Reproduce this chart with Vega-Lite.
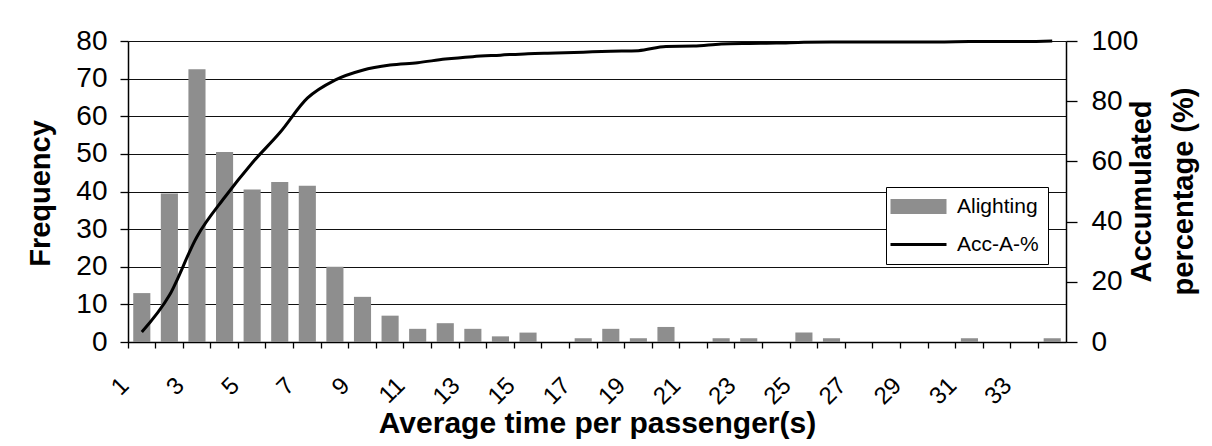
{
  "$schema": "https://vega.github.io/schema/vega-lite/v6.json",
  "width": 938,
  "height": 301,
  "autosize": {"type": "none"},
  "padding": {"left": 128, "top": 41, "right": 146, "bottom": 104},
  "background": "white",
  "config": {
    "view": {"stroke": null},
    "font": "Liberation Sans",
    "axis": {
      "domainColor": "#000000",
      "domainWidth": 1.5,
      "tickColor": "#000000",
      "tickWidth": 1.3,
      "labelColor": "#000000",
      "titleColor": "#000000",
      "labelFont": "Liberation Sans",
      "titleFont": "Liberation Sans",
      "titleFontWeight": "bold",
      "titleFontSize": 29,
      "labelFontSize": 28,
      "labelOverlap": false,
      "labelBound": false,
      "labelFlush": false
    }
  },
  "data": {
    "values": [
      {"t": 1, "freq": 13, "acc": 3.3},
      {"t": 2, "freq": 39.5, "acc": 15.5},
      {"t": 3, "freq": 72.5, "acc": 35},
      {"t": 4, "freq": 50.5, "acc": 48},
      {"t": 5, "freq": 40.5, "acc": 59.5},
      {"t": 6, "freq": 42.5, "acc": 69.5},
      {"t": 7, "freq": 41.5, "acc": 81},
      {"t": 8, "freq": 20, "acc": 87},
      {"t": 9, "freq": 12, "acc": 90.3},
      {"t": 10, "freq": 7, "acc": 92},
      {"t": 11, "freq": 3.5, "acc": 92.8},
      {"t": 12, "freq": 5, "acc": 94},
      {"t": 13, "freq": 3.5, "acc": 94.8},
      {"t": 14, "freq": 1.5, "acc": 95.3},
      {"t": 15, "freq": 2.5, "acc": 95.8},
      {"t": 16, "freq": 0, "acc": 96},
      {"t": 17, "freq": 1, "acc": 96.3},
      {"t": 18, "freq": 3.5, "acc": 96.6},
      {"t": 19, "freq": 1, "acc": 96.8},
      {"t": 20, "freq": 4, "acc": 98.2},
      {"t": 21, "freq": 0, "acc": 98.3},
      {"t": 22, "freq": 1, "acc": 99},
      {"t": 23, "freq": 1, "acc": 99.2},
      {"t": 24, "freq": 0, "acc": 99.3},
      {"t": 25, "freq": 2.5, "acc": 99.6},
      {"t": 26, "freq": 1, "acc": 99.7},
      {"t": 27, "freq": 0, "acc": 99.7},
      {"t": 28, "freq": 0, "acc": 99.7},
      {"t": 29, "freq": 0, "acc": 99.7},
      {"t": 30, "freq": 0, "acc": 99.7},
      {"t": 31, "freq": 1, "acc": 99.8},
      {"t": 32, "freq": 0, "acc": 99.8},
      {"t": 33, "freq": 0, "acc": 99.8},
      {"t": 34, "freq": 1, "acc": 100}
    ]
  },
  "encoding": {
    "x": {
      "field": "t",
      "type": "ordinal",
      "scale": {"paddingInner": 0, "paddingOuter": 0},
      "axis": {
        "title": "Average time per passenger(s)",
        "titleFontSize": 30,
        "titleY": 90,
        "titleBaseline": "alphabetic",
        "bandPosition": 0,
        "tickSize": 6,
        "labelAngle": -45,
        "labelAlign": "right",
        "labelBaseline": "top",
        "labelFontSize": 24,
        "labelPadding": 25,
        "labelOffset": -25,
        "labelExpr": "datum.value % 2 ? datum.label : ''",
        "grid": false
      }
    }
  },
  "layer": [
    {
      "mark": {"type": "bar", "width": {"band": 0.62}},
      "encoding": {
        "y": {
          "field": "freq",
          "type": "quantitative",
          "scale": {"domain": [0, 80], "nice": false},
          "axis": {
            "title": "Frequency",
            "values": [0, 10, 20, 30, 40, 50, 60, 70, 80],
            "grid": true,
            "gridColor": "#111111",
            "gridWidth": 1.2,
            "tickSize": 8,
            "labelPadding": 13,
            "titleAngle": 270,
            "titleX": -79,
            "titleY": 152,
            "titleBaseline": "alphabetic"
          }
        },
        "color": {
          "datum": "Alighting",
          "type": "nominal",
          "scale": {"domain": ["Alighting", "Acc-A-%"], "range": ["#8e8e8e", "#000000"]},
          "legend": {
            "title": null,
            "orient": "none",
            "legendX": 758,
            "legendY": 146,
            "padding": 9,
            "strokeColor": "#000000",
            "fillColor": "#ffffff",
            "labelFont": "Liberation Sans",
            "labelFontSize": 21,
            "labelColor": "#000000",
            "labelOffset": 28,
            "labelExpr": "datum.label + ' '",
            "symbolSize": 784,
            "symbolOffset": 13,
            "rowPadding": 16,
            "encode": {
              "symbols": {
                "update": {
                  "shape": {"signal": "datum.value === 'Alighting' ? 'M-2,-0.54H2V0.54H-2Z' : 'M-2,0H2'"},
                  "fill": {"signal": "datum.value === 'Alighting' ? '#8e8e8e' : 'transparent'"},
                  "stroke": {"signal": "datum.value === 'Alighting' ? 'transparent' : '#000000'"},
                  "strokeWidth": {"signal": "datum.value === 'Alighting' ? 0 : 3"}
                }
              }
            }
          }
        }
      }
    },
    {
      "mark": {"type": "line", "interpolate": "monotone", "strokeWidth": 3},
      "encoding": {
        "y": {
          "field": "acc",
          "type": "quantitative",
          "scale": {"domain": [0, 100], "nice": false},
          "axis": {
            "orient": "right",
            "title": ["Accumulated", "percentage (%)"],
            "values": [0, 20, 40, 60, 80, 100],
            "grid": false,
            "tickSize": 11,
            "labelPadding": 14,
            "titleAngle": 270,
            "titleX": 84,
            "titleY": 150,
            "titleLineHeight": 42,
            "titleBaseline": "alphabetic"
          }
        },
        "color": {"datum": "Acc-A-%", "type": "nominal"}
      }
    }
  ],
  "resolve": {"scale": {"y": "independent"}}
}
